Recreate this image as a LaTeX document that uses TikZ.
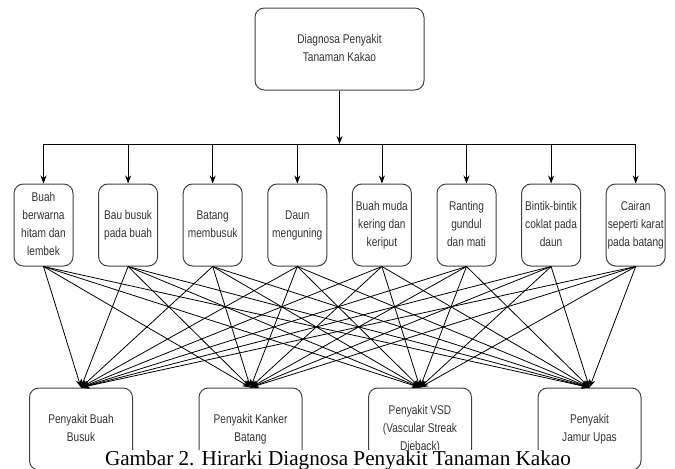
\documentclass[tikz,border=0pt]{standalone}
\usepackage{fontspec}
\setmainfont{Liberation Serif}
\newfontfamily\kotakfont{Liberation Sans}
\usetikzlibrary{arrows.meta,positioning}
\newcommand\tekstinggi[1]{\scalebox{1}[1.25]{\begin{tabular}{@{}c@{}}#1\end{tabular}}}

\begin{document}
\begin{tikzpicture}[x=0.75pt,y=-0.75pt,
		kotak/.style={draw=black!75,line width=0.75pt,rounded corners=7pt,align=center,inner sep=0pt,
			text=black!80,font=\kotakfont\fontsize{7.6}{10.8}\selectfont,minimum height=61.5pt},
		panah/.style={-{Stealth[length=6pt,width=4.5pt]},line width=0.6pt}]
	\useasboundingbox (0,0) rectangle (675,468);

	\node[kotak,minimum width=126.75pt] (akar) at (339.5,49) {\tekstinggi{Diagnosa Penyakit\\Tanaman Kakao}};

	\foreach \teks [count=\i] in {{Buah\\berwarna\\hitam dan\\lembek},{Bau busuk\\pada buah},{Batang\\membusuk},
		{Daun\\menguning},{Buah muda\\kering dan\\keriput},{Ranting\\gundul\\dan mati},
		{Bintik-bintik\\coklat pada\\daun},{Cairan\\seperti karat\\pada batang}}
		\node[kotak,minimum width=44.25pt] (gejala\i) at ({43.5+84.6*(\i-1)},225) {\tekstinggi{\teks}};

	\foreach \teks [count=\j] in {{Penyakit Buah\\Busuk},{Penyakit Kanker\\Batang},
		{Penyakit VSD\\(Vascular Streak\\Dieback)},{Penyakit\\Jamur Upas}}
		\node[kotak,minimum width=77.25pt] (penyakit\j) at ({81+169.5*(\j-1)},429) {\tekstinggi{\teks}};

	\coordinate (bus) at (339.5,144);
	\draw[panah] (akar.south) -- (bus);
	\draw[line width=0.6pt] (gejala1 |- bus) -- (gejala8 |- bus);
	\foreach \i in {1,...,8}
		\draw[panah] (gejala\i |- bus) -- (gejala\i.north);

	\foreach \i in {1,...,8}
		\foreach \j in {1,...,4}
			\draw[panah] (gejala\i.south) -- (penyakit\j.north);

	\node[fill=white,inner sep=0pt,anchor=base,font=\fontsize{15.9}{18}\selectfont] (judul) at (338,465)
		{Gambar 2. Hirarki Diagnosa Penyakit Tanaman Kakao};
\end{tikzpicture}
\end{document}
